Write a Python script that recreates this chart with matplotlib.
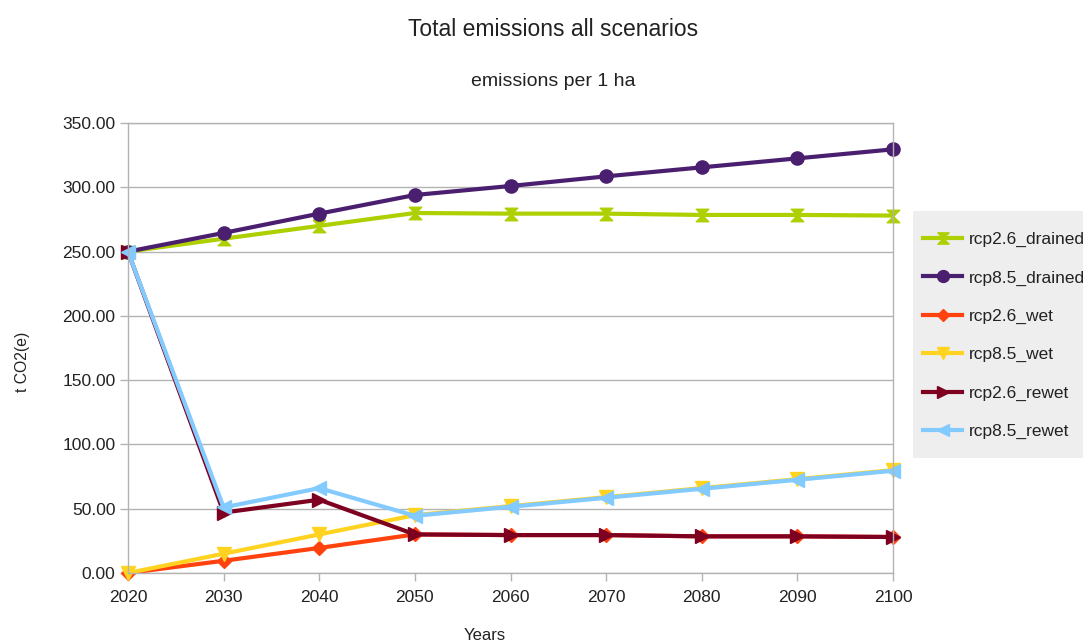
import matplotlib
matplotlib.use("Agg")
import matplotlib.pyplot as plt
from matplotlib.path import Path
from matplotlib.patches import Rectangle
from matplotlib.ticker import FormatStrFormatter, MultipleLocator

plt.rcParams['font.family'] = ['Liberation Sans', 'DejaVu Sans']

years = [2020, 2030, 2040, 2050, 2060, 2070, 2080, 2090, 2100]

rcp26_drained = [250, 260, 270, 280, 279.5, 279.5, 278.5, 278.5, 278]
rcp85_drained = [250, 264.5, 279.5, 294, 301, 308.5, 315.5, 322.5, 329.5]
rcp26_wet = [0, 9.5, 19.5, 30, 29.5, 29.5, 28.5, 28.5, 28]
rcp85_wet = [0, 15, 30, 45, 52, 59, 66, 73, 80]
rcp26_rewet = [250, 47, 57, 30, 29.5, 29.5, 28.5, 28.5, 28]
rcp85_rewet = [250, 51, 66, 44.5, 51.5, 58.5, 65.5, 72.5, 79.5]

series_names = ['rcp2.6_drained', 'rcp8.5_drained', 'rcp2.6_wet',
                'rcp8.5_wet', 'rcp2.6_rewet', 'rcp8.5_rewet']
series_values = [rcp26_drained, rcp85_drained, rcp26_wet,
                 rcp85_wet, rcp26_rewet, rcp85_rewet]
series_colors = ['#aecf00', '#4b1f6f', '#ff420e', '#ffd320', '#7e0021', '#83caff']

# hourglass marker: two triangles meeting at the centre
hourglass = Path([(-1, 1), (1, 1), (-1, -1), (1, -1), (-1, 1)],
                 [Path.MOVETO, Path.LINETO, Path.LINETO, Path.LINETO, Path.CLOSEPOLY])
markers = [hourglass, 'o', 'D', 'v', '>', '<']
msizes = [9, 9.5, 7, 10, 10, 10]

W, H = 1083, 643
fig = plt.figure(figsize=(W / 100, H / 100), dpi=100)
left, right, top, bottom = 128, 893, 123, 573
ax = fig.add_axes([left / W, 1 - bottom / H, (right - left) / W, (bottom - top) / H])

grid_c = '#b3b3b3'
for name, vals, col, mk, ms in zip(series_names, series_values, series_colors, markers, msizes):
    ax.plot(years, vals, color=col, lw=3, marker=mk, markersize=ms,
            markeredgecolor=col, markerfacecolor=col, label=name,
            solid_joinstyle='round', clip_on=False)

ax.set_xlim(2020, 2100)
ax.set_ylim(0, 350)
ax.set_xticks(years)
ax.yaxis.set_major_locator(MultipleLocator(50))
ax.yaxis.set_major_formatter(FormatStrFormatter('%.2f'))
ax.grid(axis='y', color=grid_c, lw=1)
ax.set_axisbelow(True)
for s in ax.spines.values():
    s.set_color(grid_c)
    s.set_linewidth(1)
ax.tick_params(axis='both', colors=grid_c, length=6, width=1, labelsize=12.5,
               labelcolor='#222222')
ax.tick_params(axis='x', pad=6)
ax.tick_params(axis='y', pad=3)

fig.text(553 / W, 1 - 29 / H, 'Total emissions all scenarios', ha='center', va='center',
         fontsize=16.5, color='#222222')
fig.text(553 / W, 1 - 81 / H, 'emissions per 1 ha', ha='center', va='center',
         fontsize=14, color='#222222')
fig.text(485 / W, 1 - 636 / H, 'Years', ha='center', va='center',
         fontsize=12, color='#222222')
fig.text(22 / W, 1 - 362 / H, 't CO2(e)', ha='center', va='center', rotation=90,
         fontsize=11.3, color='#222222')

# legend panel background
fig.patches.append(Rectangle((913 / W, 1 - 458 / H), 200 / W, 247 / H,
                             transform=fig.transFigure, facecolor='#eeeeee',
                             edgecolor='none', zorder=0))

leg = fig.legend(loc='upper left', bbox_to_anchor=(923 / W, 1 - 232 / H),
                 bbox_transform=fig.transFigure, frameon=False,
                 fontsize=12.5, handlelength=2.25, handletextpad=0.4,
                 labelspacing=1.33, borderaxespad=0, borderpad=0,
                 markerscale=0.9)
for t in leg.get_texts():
    t.set_color('#222222')

fig.savefig('out.png', dpi=100)
